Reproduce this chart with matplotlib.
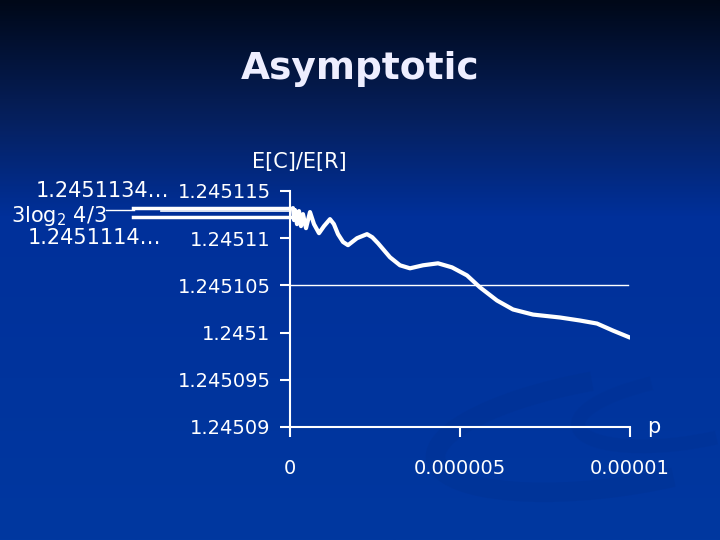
import numpy as np
import matplotlib.pyplot as plt
from matplotlib.colors import LinearSegmentedColormap
from matplotlib.patches import Arc

# данные
p_vals = [0.088e-6, 0.118e-6, 0.147e-6, 0.206e-6, 0.265e-6, 0.324e-6, 0.382e-6,
          0.471e-6, 0.588e-6, 0.706e-6, 0.853e-6, 1.0e-6, 1.176e-6, 1.29e-6, 1.412e-6,
          1.56e-6, 1.706e-6, 1.971e-6, 2.265e-6, 2.42e-6, 2.588e-6, 2.941e-6, 3.235e-6,
          3.529e-6, 3.912e-6, 4.353e-6, 4.765e-6, 5.206e-6, 5.588e-6, 6.088e-6,
          6.559e-6, 7.147e-6, 7.941e-6, 8.529e-6, 9.029e-6, 9.5e-6, 10.0e-6]
ratio = [1.24511319, 1.24511192, 1.24511298, 1.24511149, 1.24511287, 1.24511128,
         1.24511255, 1.24511106, 1.24511277, 1.24511149, 1.24511053, 1.24511128,
         1.24511202, 1.24511150, 1.24511043, 1.24510960, 1.24510926, 1.24511000,
         1.24511043, 1.24511010, 1.24510947, 1.24510798, 1.24510713, 1.24510681,
         1.24510713, 1.24510734, 1.24510691, 1.24510606, 1.24510479, 1.24510340,
         1.24510245, 1.24510191, 1.24510160, 1.24510128, 1.24510096, 1.24510021,
         1.24509947]

y_ticks = [1.24509, 1.245095, 1.2451, 1.245105, 1.24511, 1.245115]
y_labels = ['1.24509', '1.245095', '1.2451', '1.245105', '1.24511', '1.245115']
x_ticks = [0, 0.000005, 0.00001]
x_labels = ['0', '0.000005', '0.00001']
grid_level = 1.245105
bracket_vals = [1.2451132, 1.2451129, 1.2451122]

fig = plt.figure(figsize=(7.2, 5.4), dpi=100)

# фон - градиент
bg = fig.add_axes([0, 0, 1, 1], zorder=-10)
cmap = LinearSegmentedColormap.from_list(
    'bg', [(0, '#000818'), (0.22, '#06205e'), (0.4, '#00309a'), (1, '#0038a0')])
grad = np.linspace(0, 1, 256).reshape(-1, 1)
bg.imshow(grad, aspect='auto', cmap=cmap, extent=[0, 1, 0, 1], origin='upper')
# слабый "завиток" справа внизу
bg.add_patch(Arc((0.86, 0.2), 0.52, 0.2, angle=12, theta1=100, theta2=300,
                 color='#00308e', lw=14, alpha=0.3))
bg.add_patch(Arc((0.95, 0.24), 0.3, 0.12, angle=12, theta1=120, theta2=300,
                 color='#00308e', lw=10, alpha=0.25))
bg.set_xlim(0, 1)
bg.set_ylim(0, 1)
bg.axis('off')

fig.text(0.5, 0.873, 'Asymptotic', ha='center', va='center', color='#eeeeff',
         fontsize=27, fontweight='bold')

ax = fig.add_axes([290 / 720, 1 - 427 / 540, 340 / 720, 236 / 540])
ax.patch.set_alpha(0)
ax.plot(p_vals, ratio, color='white', lw=3, solid_joinstyle='round',
        solid_capstyle='round', zorder=3)
ax.axhline(grid_level, xmin=0, xmax=0.995, color='white', lw=1)

ax.set_xlim(0, 0.00001)
ax.set_ylim(1.24509, 1.245115)
ax.set_yticks(y_ticks)
ax.set_yticklabels(y_labels)
ax.set_xticks(x_ticks)
ax.set_xticklabels(x_labels)
ax.tick_params(axis='y', colors='white', labelsize=14, length=7, width=1.5, pad=7)
ax.tick_params(axis='x', colors='white', labelsize=14, length=7, width=1.5, pad=16)
for s in ['top', 'right']:
    ax.spines[s].set_visible(False)
for s in ['left', 'bottom']:
    ax.spines[s].set_color('white')
    ax.spines[s].set_linewidth(1.5)

ax.text(1.07, 1.24509, 'p', transform=ax.get_yaxis_transform(), color='white',
        fontsize=15, ha='center', va='center')
ax.text(0.026, 1.123, 'E[C]/E[R]', transform=ax.transAxes, color='white',
        fontsize=15, ha='center', va='center')

# линии от подписи 3log2 4/3 к оси
tr = ax.get_yaxis_transform()
ax.plot([-0.462, 0], [bracket_vals[0]] * 2, color='white', lw=2.5, transform=tr, clip_on=False)
ax.plot([-0.38, 0], [bracket_vals[1]] * 2, color='white', lw=1.2, transform=tr, clip_on=False)
ax.plot([-0.462, 0], [bracket_vals[2]] * 2, color='white', lw=2.5, transform=tr, clip_on=False)
ax.plot([-0.54, -0.46], [1.245113] * 2, color='white', lw=1, transform=tr, clip_on=False)

ax.text(-0.355, 1.245115, '1.2451134…', transform=tr, color='white', fontsize=15,
        ha='right', va='center')
ax.text(-0.538, 1.2451124, '3log$_2$ 4/3', transform=tr, color='white', fontsize=15,
        ha='right', va='center')
ax.text(-0.38, 1.24511, '1.2451114…', transform=tr, color='white', fontsize=15,
        ha='right', va='center')

plt.savefig('out.png', dpi=100)
